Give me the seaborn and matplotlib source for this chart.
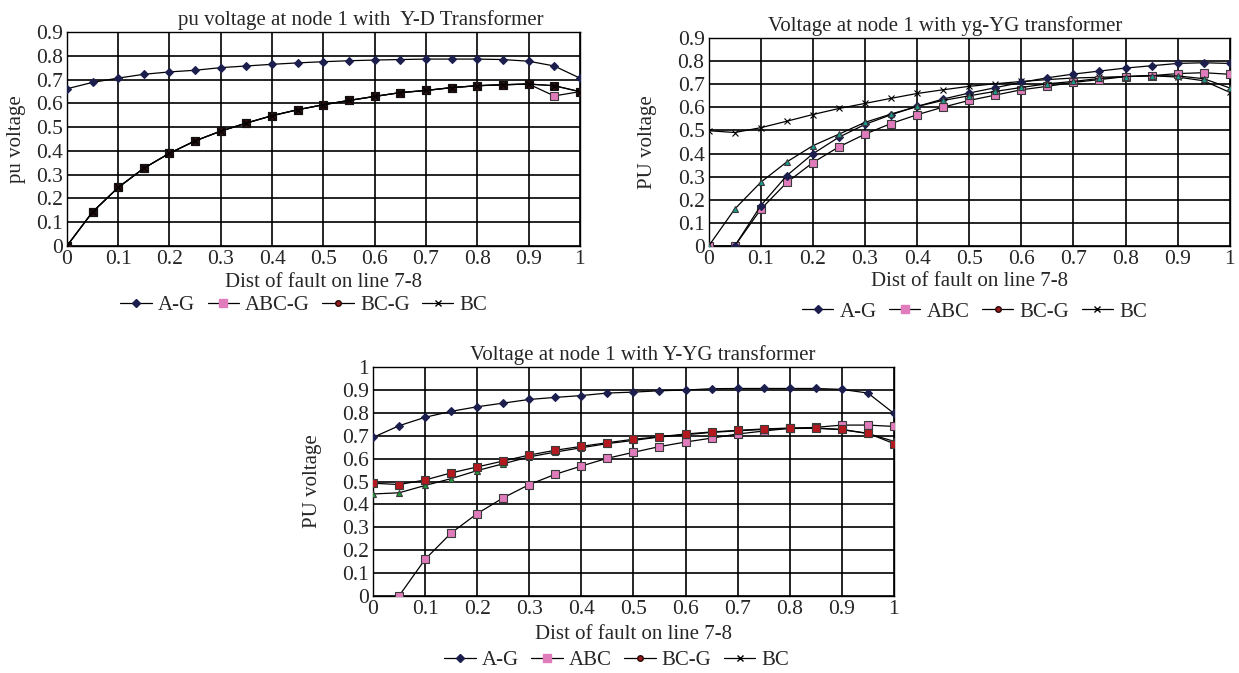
import numpy as np
import seaborn as sns
import matplotlib.pyplot as plt
from matplotlib.lines import Line2D

# distance of fault along line 7-8
dist = [0, 0.05, 0.1, 0.15, 0.2, 0.25, 0.3, 0.35, 0.4, 0.45, 0.5,
        0.55, 0.6, 0.65, 0.7, 0.75, 0.8, 0.85, 0.9, 0.95, 1.0]
x_ticks = [0, 0.1, 0.2, 0.3, 0.4, 0.5, 0.6, 0.7, 0.8, 0.9, 1]
x_labels = ['0', '0.1', '0.2', '0.3', '0.4', '0.5', '0.6', '0.7', '0.8', '0.9', '1']
series_names = ['A-G', 'ABC', 'BC-G', 'BC']

# Y-D transformer
yd_ag = [0.661, 0.688, 0.706, 0.722, 0.732, 0.739, 0.750, 0.757, 0.764, 0.770, 0.775,
         0.779, 0.782, 0.784, 0.786, 0.786, 0.786, 0.784, 0.777, 0.757, 0.706]
yd_abcg = [0.0, 0.143, 0.246, 0.327, 0.390, 0.442, 0.483, 0.517, 0.548, 0.573, 0.594,
           0.612, 0.629, 0.645, 0.654, 0.666, 0.674, 0.678, 0.681, 0.631, 0.649]
yd_bcg = [0.0, 0.143, 0.246, 0.327, 0.390, 0.442, 0.483, 0.517, 0.548, 0.573, 0.594,
          0.612, 0.629, 0.645, 0.654, 0.666, 0.674, 0.678, 0.681, 0.674, 0.649]
yd_bc = [0.0, 0.143, 0.246, 0.327, 0.390, 0.442, 0.483, 0.517, 0.548, 0.573, 0.594,
         0.612, 0.629, 0.645, 0.654, 0.666, 0.674, 0.678, 0.681, 0.674, 0.649]

# yg-YG transformer
yg_ag = [np.nan, 0.0, 0.175, 0.305, 0.399, 0.471, 0.526, 0.568, 0.604, 0.636, 0.662,
         0.685, 0.708, 0.728, 0.744, 0.757, 0.770, 0.780, 0.790, 0.793, 0.790]
yg_abc = [0.0, 0.0, 0.159, 0.275, 0.361, 0.429, 0.484, 0.530, 0.568, 0.601, 0.630,
          0.653, 0.676, 0.691, 0.708, 0.720, 0.733, 0.737, 0.746, 0.750, 0.743]
yg_bcg = [0.0, 0.160, 0.276, 0.364, 0.434, 0.484, 0.535, 0.571, 0.604, 0.630, 0.650,
          0.669, 0.686, 0.702, 0.712, 0.725, 0.733, 0.737, 0.736, 0.724, 0.684]
yg_bc = [0.499, 0.491, 0.512, 0.540, 0.569, 0.595, 0.617, 0.639, 0.660, 0.676, 0.691,
         0.702, 0.712, 0.720, 0.727, 0.730, 0.733, 0.737, 0.731, 0.715, 0.665]

# Y-YG transformer
yyg_ag = [0.693, 0.744, 0.781, 0.807, 0.827, 0.843, 0.859, 0.868, 0.876, 0.887, 0.891,
          0.897, 0.900, 0.906, 0.907, 0.907, 0.907, 0.907, 0.903, 0.887, 0.798]
yyg_abc = [np.nan, 0.0, 0.160, 0.275, 0.360, 0.429, 0.487, 0.532, 0.568, 0.602, 0.628,
           0.653, 0.673, 0.690, 0.708, 0.721, 0.733, 0.737, 0.747, 0.747, 0.741]
yyg_bcg = [0.493, 0.487, 0.507, 0.538, 0.564, 0.590, 0.616, 0.637, 0.654, 0.670, 0.685,
           0.696, 0.708, 0.717, 0.724, 0.730, 0.734, 0.734, 0.728, 0.711, 0.666]
yyg_bc = [0.446, 0.451, 0.483, 0.513, 0.548, 0.578, 0.608, 0.629, 0.648, 0.666, 0.680,
          0.695, 0.705, 0.715, 0.722, 0.728, 0.732, 0.733, 0.727, 0.710, 0.676]

sns.set_style('white')
plt.rcParams['font.family'] = ['Liberation Serif', 'DejaVu Serif']

FS = 15.5
navy = '#1c1f4d'
pink = '#e07cbc'
edge = '#3a3a3a'


def draw(ax, y, marker, face, ms, medge=None):
    sns.lineplot(x=dist, y=y, ax=ax, color='black', lw=0.9, marker=marker, markersize=ms,
                 markerfacecolor=face, markeredgecolor=medge if medge else face,
                 markeredgewidth=0.8, zorder=3)


def style(ax, title, ylabel, ymax, title_x, ylab_x, leg_x, leg_y, labels):
    ax.set_xlim(0, 1)
    ax.set_ylim(0, ymax)
    ax.set_xticks(x_ticks)
    ax.set_xticklabels(x_labels)
    yt = np.round(np.arange(0, ymax + 0.001, 0.1), 1)
    ax.set_yticks(yt)
    ax.set_yticklabels(['0' if v == 0 else ('1' if v == 1 else f'{v:.1f}') for v in yt])
    ax.grid(True, color='black', lw=1.2)
    ax.set_axisbelow(True)
    for s in ax.spines.values():
        s.set_color('black')
        s.set_linewidth(1.0)
    ax.tick_params(length=0, pad=3, labelsize=FS)
    ax.set_title(title, x=title_x, fontsize=FS - 0.5, pad=5)
    ax.set_xlabel('Dist of fault on line 7-8', fontsize=FS - 0.5)
    ax.xaxis.set_label_coords(0.5, -0.125)
    ax.set_ylabel(ylabel, fontsize=FS - 0.5)
    ax.yaxis.set_label_coords(ylab_x, 0.5)
    handles = [
        Line2D([], [], color='black', lw=0.9, marker='D', markersize=4, markerfacecolor=navy, markeredgecolor=navy),
        Line2D([], [], color='black', lw=0.9, marker='s', markersize=6, markerfacecolor=pink, markeredgecolor=pink),
        Line2D([], [], color='black', lw=0.9, marker='o', markersize=4, markerfacecolor='#9b1b1b', markeredgecolor='#2a0a0a'),
        Line2D([], [], color='black', lw=0.9, marker='x', markersize=5, markeredgecolor='black'),
    ]
    ax.legend(handles, labels, loc='center', bbox_to_anchor=(leg_x, leg_y), ncol=4, frameon=False,
              fontsize=FS - 0.5, handlelength=1.5, handletextpad=0.3, columnspacing=0.6)


fig = plt.figure(figsize=(12.39, 6.73), dpi=100)
ax1 = fig.add_axes([0.054, 0.6345, 0.414, 0.318])
ax2 = fig.add_axes([0.572, 0.6345, 0.4205, 0.309])
ax3 = fig.add_axes([0.301, 0.1144, 0.4205, 0.340])

# Y-D
draw(ax1, yd_ag, 'D', navy, 4)
draw(ax1, yd_abcg, 's', pink, 6, edge)
draw(ax1, yd_bcg, 's', '#2a1010', 6, '#111111')
draw(ax1, yd_bc, 'x', 'black', 5, 'black')
style(ax1, 'pu voltage at node 1 with  Y-D Transformer', 'pu voltage', 0.9,
      0.573, -0.08, 0.462, -0.276, ['A-G', 'ABC-G', 'BC-G', 'BC'])

# yg-YG
draw(ax2, yg_bc, 'x', 'black', 5, 'black')
draw(ax2, yg_abc, 's', pink, 6, edge)
draw(ax2, yg_ag, 'D', navy, 4)
draw(ax2, yg_bcg, '^', '#1a9e8f', 5, edge)
style(ax2, 'Voltage at node 1 with yg-YG transformer', 'PU voltage', 0.9,
      0.453, -0.1, 0.51, -0.317, series_names)

# Y-YG
draw(ax3, yyg_ag, 'D', navy, 4)
draw(ax3, yyg_abc, 's', pink, 6, edge)
draw(ax3, yyg_bc, '^', '#1f9b3a', 5, edge)
draw(ax3, yyg_bcg, 's', '#b3191e', 6, edge)
style(ax3, 'Voltage at node 1 with Y-YG transformer', 'PU voltage', 1.0,
      0.518, -0.098, 0.468, -0.28, series_names)

fig.savefig('out.png', dpi=100)
